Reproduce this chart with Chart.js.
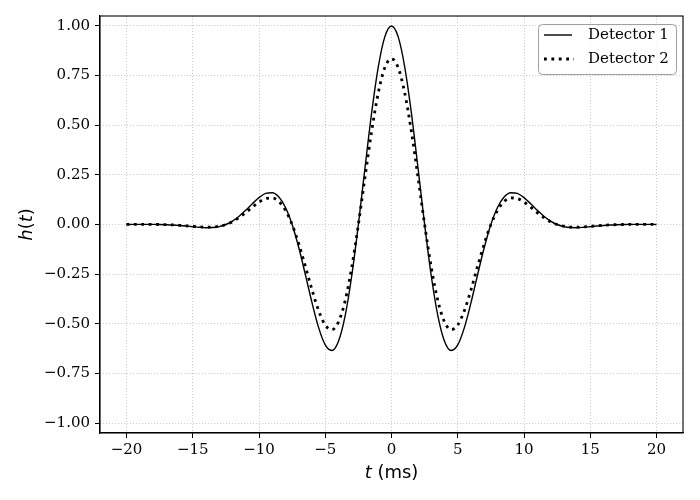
<!DOCTYPE html>
<html>
<head>
<meta charset="utf-8">
<script src="https://cdn.jsdelivr.net/npm/chart.js@4/dist/chart.umd.min.js"></script>
<style>
  body { margin: 0; background: #fff; }
  canvas { display: block; }
</style>
</head>
<body>
<canvas id="js--chart" width="700" height="500"></canvas>
<script>
// time axis in ms
const times = [
  -20, -19.5, -19, -18.5, -18, -17.5, -17, -16.5, -16, -15.5,
  -15, -14.5, -14, -13.5, -13, -12.5, -12, -11.5, -11, -10.5,
  -10, -9.5, -9, -8.5, -8, -7.5, -7, -6.5, -6, -5.5,
  -5, -4.5, -4, -3.5, -3, -2.5, -2, -1.5, -1, -0.5,
  0,
  0.5, 1, 1.5, 2, 2.5, 3, 3.5, 4, 4.5, 5,
  5.5, 6, 6.5, 7, 7.5, 8, 8.5, 9, 9.5, 10,
  10.5, 11, 11.5, 12, 12.5, 13, 13.5, 14, 14.5, 15,
  15.5, 16, 16.5, 17, 17.5, 18, 18.5, 19, 19.5, 20
];

const detector1 = [
  0.0003, 0.0005, 0.0006, 0.0006, 0.0005, 0.0000, -0.0010, -0.0025, -0.0048, -0.0078,
  -0.0111, -0.0142, -0.0161, -0.0154, -0.0105, 0.0000, 0.0173, 0.0417, 0.0719, 0.1049,
  0.1353, 0.1564, 0.1601, 0.1386, 0.0859, 0.0000, -0.1160, -0.2525, -0.3938, -0.5193,
  -0.6065, -0.6343, -0.5875, -0.4601, -0.2581, 0.0000, 0.2853, 0.5619, 0.7930, 0.9463,
  1.0000,
  0.9463, 0.7930, 0.5619, 0.2853, 0.0000, -0.2581, -0.4601, -0.5875, -0.6343, -0.6065,
  -0.5193, -0.3938, -0.2525, -0.1160, 0.0000, 0.0859, 0.1386, 0.1601, 0.1564, 0.1353,
  0.1049, 0.0719, 0.0417, 0.0173, 0.0000, -0.0105, -0.0154, -0.0161, -0.0142, -0.0111,
  -0.0078, -0.0048, -0.0025, -0.0010, 0.0000, 0.0005, 0.0006, 0.0006, 0.0005, 0.0003
];

const detector2 = [
  0.0003, 0.0004, 0.0005, 0.0005, 0.0004, 0.0000, -0.0008, -0.0021, -0.0040, -0.0065,
  -0.0093, -0.0119, -0.0134, -0.0129, -0.0088, 0.0000, 0.0144, 0.0348, 0.0600, 0.0876,
  0.1130, 0.1306, 0.1337, 0.1157, 0.0717, 0.0000, -0.0969, -0.2108, -0.3288, -0.4336,
  -0.5064, -0.5296, -0.4906, -0.3842, -0.2155, 0.0000, 0.2382, 0.4692, 0.6622, 0.7902,
  0.8350,
  0.7902, 0.6622, 0.4692, 0.2382, 0.0000, -0.2155, -0.3842, -0.4906, -0.5296, -0.5064,
  -0.4336, -0.3288, -0.2108, -0.0969, 0.0000, 0.0717, 0.1157, 0.1337, 0.1306, 0.1130,
  0.0876, 0.0600, 0.0348, 0.0144, 0.0000, -0.0088, -0.0129, -0.0134, -0.0119, -0.0093,
  -0.0065, -0.0040, -0.0021, -0.0008, 0.0000, 0.0004, 0.0005, 0.0005, 0.0004, 0.0003
];

const seriesNames = ["Detector 1", "Detector 2"];
const xTicks = [-20, -15, -10, -5, 0, 5, 10, 15, 20];
const yTicks = [-1.0, -0.75, -0.5, -0.25, 0.0, 0.25, 0.5, 0.75, 1.0];

const serif = "'DejaVu Serif', serif";
const sans = "'DejaVu Sans', sans-serif";

function minus(s) {
    return s.replace("-", "\u2212");
}

function toPoints(ys) {
    return times.map((t, i) => ({x: t, y: ys[i]}));
}

// full box, legend and the axis labels with italic math letters
const extras = {
    id: "extras",
    afterDraw(chart) {
        const ctx = chart.ctx;
        const a = chart.chartArea;
        ctx.save();
        ctx.strokeStyle = "#000";
        ctx.lineWidth = 1.1;
        ctx.strokeRect(a.left, a.top, a.right - a.left, a.bottom - a.top);

        // legend
        const lx = 538, ly = 24, lw = 138, lh = 50, r = 4;
        ctx.beginPath();
        ctx.roundRect(lx + 0.5, ly + 0.5, lw, lh, r);
        ctx.fillStyle = "rgba(255,255,255,0.8)";
        ctx.fill();
        ctx.strokeStyle = "#a0a0a0";
        ctx.lineWidth = 1;
        ctx.stroke();

        ctx.strokeStyle = "#000";
        ctx.lineWidth = 1.4;
        ctx.setLineDash([]);
        ctx.beginPath();
        ctx.moveTo(544, 35);
        ctx.lineTo(572, 35);
        ctx.stroke();

        ctx.lineWidth = 2.8;
        ctx.setLineDash([2.8, 4.6]);
        ctx.beginPath();
        ctx.moveTo(544, 59);
        ctx.lineTo(574, 59);
        ctx.stroke();
        ctx.setLineDash([]);

        ctx.fillStyle = "#000";
        ctx.font = "15px " + serif;
        ctx.textBaseline = "middle";
        ctx.textAlign = "left";
        ctx.fillText(seriesNames[0], 588, 35);
        ctx.fillText(seriesNames[1], 588, 59);

        // x label: t (ms)
        const it = "italic 18px " + sans, up = "18px " + sans;
        ctx.font = it;
        const wt = ctx.measureText("t").width;
        ctx.font = up;
        const wr = ctx.measureText(" (ms)").width;
        let x0 = (a.left + a.right) / 2 - (wt + wr) / 2;
        ctx.textBaseline = "alphabetic";
        ctx.font = it;
        ctx.fillText("t", x0, 478);
        ctx.font = up;
        ctx.fillText(" (ms)", x0 + wt, 478);

        // y label: h(t)
        const parts = [["h", it], ["(", up], ["t", it], [")", up]];
        let total = 0;
        parts.forEach(p => { ctx.font = p[1]; total += ctx.measureText(p[0]).width; });
        ctx.translate(32, (a.top + a.bottom) / 2);
        ctx.rotate(-Math.PI / 2);
        let px = -total / 2;
        parts.forEach(p => {
            ctx.font = p[1];
            ctx.fillText(p[0], px, 0);
            px += ctx.measureText(p[0]).width;
        });
        ctx.restore();
    }
};

const gridOpts = {
    color: "#c4c4c4",
    lineWidth: 0.9,
    tickColor: "#000",
    tickLength: 5,
    tickWidth: 1,
    tickBorderDash: []
};

const borderOpts = {
    color: "#000",
    width: 1.1,
    dash: [1.1, 1.9]
};

const config = {
    type: "line",
    data: {
        datasets: [
            {
                label: seriesNames[0],
                data: toPoints(detector1),
                borderColor: "#000",
                borderWidth: 1.4,
                pointRadius: 0,
                cubicInterpolationMode: "monotone",
                fill: false,
                order: 1
            },
            {
                label: seriesNames[1],
                data: toPoints(detector2),
                borderColor: "#000",
                borderWidth: 2.8,
                borderDash: [2.8, 4.6],
                pointRadius: 0,
                cubicInterpolationMode: "monotone",
                fill: false,
                order: 0
            }
        ]
    },
    options: {
        responsive: false,
        animation: false,
        devicePixelRatio: 1,
        layout: {padding: {left: 0, right: 17, top: 16, bottom: 0}},
        plugins: {
            legend: {display: false},
            tooltip: {enabled: false}
        },
        scales: {
            x: {
                type: "linear",
                min: -22,
                max: 22,
                grid: gridOpts,
                border: borderOpts,
                afterBuildTicks: s => { s.ticks = xTicks.map(v => ({value: v})); },
                afterFit: s => { s.height = 67; },
                ticks: {
                    color: "#000",
                    padding: 3,
                    maxRotation: 0,
                    font: {family: serif, size: 15},
                    callback: v => minus(String(v))
                }
            },
            y: {
                type: "linear",
                min: -1.05,
                max: 1.05,
                grid: gridOpts,
                border: borderOpts,
                afterBuildTicks: s => { s.ticks = yTicks.map(v => ({value: v})); },
                afterFit: s => { s.width = 100; },
                ticks: {
                    color: "#000",
                    padding: 5,
                    font: {family: serif, size: 15},
                    callback: v => minus(v.toFixed(2))
                }
            }
        }
    },
    plugins: [extras]
};

const chart1 = new Chart(document.getElementById("js--chart"), config);
</script>
</body>
</html>
